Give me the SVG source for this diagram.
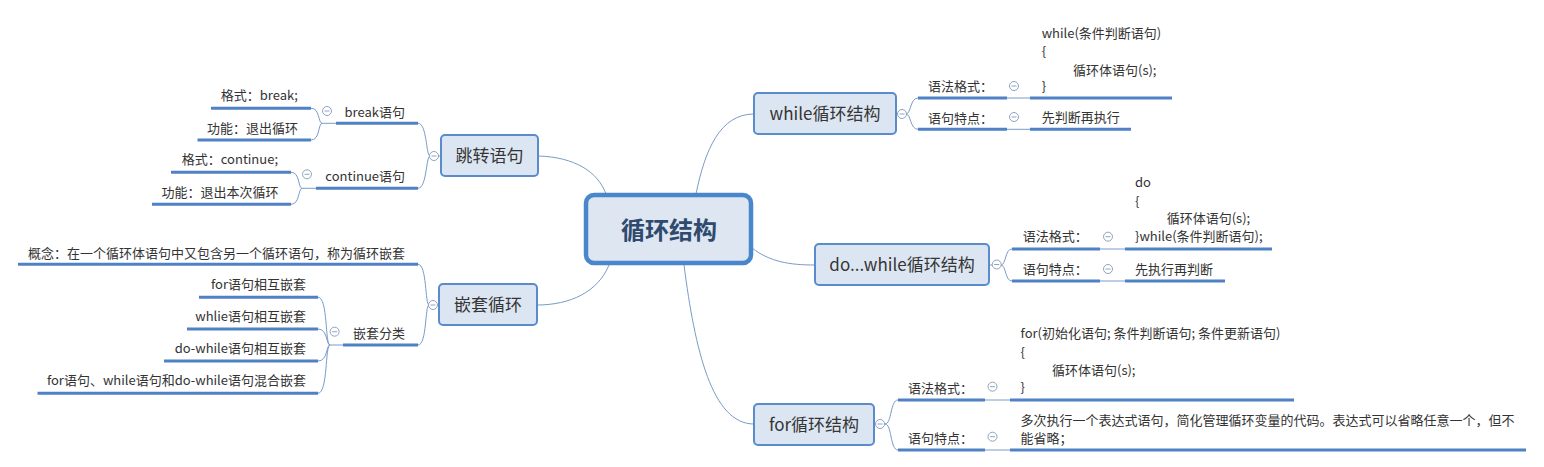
<svg xmlns="http://www.w3.org/2000/svg" xmlns:xlink="http://www.w3.org/1999/xlink" width="1544" height="467" viewBox="0 0 1544 467">
<style>
text{font-family:"Noto Sans CJK SC","Microsoft YaHei",sans-serif;fill:#333333;}
.t{font-size:13px;}
.e{text-anchor:end;}
.m{font-size:17px;text-anchor:middle;fill:#353535;}
.c{font-size:24px;font-weight:bold;text-anchor:middle;fill:#2f4a6e;}
.u{stroke:#4f81c4;stroke-width:3;fill:none;}
.k{stroke:#7a9bc8;stroke-width:1;fill:none;}
.b{fill:#dce6f2;stroke:#5a8bcb;stroke-width:2;}
.cb{fill:#dde6f1;stroke:#4a86cc;stroke-width:4.5;}
.o{fill:#ffffff;stroke:#8fa3bf;stroke-width:1;}
.ol{stroke:#8fa3bf;stroke-width:1;}
</style>
<defs>
<g id="col"><circle class="o" cx="0" cy="0" r="4.5"/><line class="ol" x1="-2.5" y1="0" x2="2.5" y2="0"/></g>
</defs>

<g id="connectors">
<!-- center to main branches -->
<path class="k" d="M606,194 C598,172 575,157 538,156"/>
<path class="k" d="M609,265 C598,292 570,305 537,305"/>
<path class="k" d="M696,194 C705,150 720,114 754,114"/>
<path class="k" d="M752,248 C770,262 790,265 815,265"/>
<path class="k" d="M684,265 C695,350 712,424 754,424"/>
<!-- 跳转语句 bracket -->
<path class="k" d="M441,156 L430,156 C426,156 427,123 418,123.3"/>
<path class="k" d="M430,156 C426,156 427,188 418,188.3"/>
<!-- break bracket -->
<path class="k" d="M336,123.3 L322,123.3 C318,123 320,108 311,108.3"/>
<path class="k" d="M322,123.3 C318,124 320,140 311,140"/>
<!-- continue bracket -->
<path class="k" d="M316,188.3 L302,188.3 C298,188 300,172 291,172.3"/>
<path class="k" d="M302,188.3 C298,189 300,204 291,204.3"/>
<!-- 嵌套循环 bracket -->
<path class="k" d="M439,305 L429,305 C425,305 427,264 418,264.3"/>
<path class="k" d="M429,305 C425,305 427,345 418,345"/>
<!-- 嵌套分类 bracket -->
<path class="k" d="M343,345 L330,345 C325,345 328,297 318,297.3"/>
<path class="k" d="M330,345 C326,345 328,329 318,329"/>
<path class="k" d="M330,345 C326,345 328,361 318,361"/>
<path class="k" d="M330,345 C325,345 328,393 318,393.3"/>
<!-- while bracket -->
<path class="k" d="M896,114 L906,114 C911,114 910,98 918,98"/>
<path class="k" d="M906,114 C911,114 910,129.3 918,129.3"/>
<line class="k" x1="1007" y1="98" x2="1030" y2="98"/>
<line class="k" x1="1007" y1="129.3" x2="1030" y2="129.3"/>
<!-- do..while bracket -->
<path class="k" d="M989,265 L1001,265 C1006,265 1005,249 1012,249"/>
<path class="k" d="M1001,265 C1006,265 1005,281 1012,281"/>
<line class="k" x1="1100" y1="249" x2="1125" y2="249"/>
<line class="k" x1="1100" y1="281" x2="1125" y2="281"/>
<!-- for bracket -->
<path class="k" d="M874,424 L885,424 C892,424 890,400 898,400"/>
<path class="k" d="M885,424 C892,424 890,450 898,450"/>
<line class="k" x1="985" y1="400" x2="1010" y2="400"/>
<line class="k" x1="985" y1="450" x2="1010" y2="450"/>
</g>

<g id="center">
<rect class="cb" x="586" y="195" width="165" height="68" rx="8"/>
<text class="c" x="669" y="238.5">循环结构</text>
</g>

<!-- 跳转语句 -->
<g id="jump">
<rect class="b" x="441" y="135" width="97" height="41" rx="4"/>
<text class="m" x="489.5" y="162">跳转语句</text>
<use xlink:href="#col" x="434" y="156"/>
</g>
<g id="break">
<line class="u" x1="336" y1="123.3" x2="418" y2="123.3"/>
<text class="t e" x="405" y="116.5">break语句</text>
<use xlink:href="#col" x="327" y="111"/>
</g>
<g id="break-format">
<line class="u" x1="211" y1="108.3" x2="311" y2="108.3"/>
<text class="t e" x="298" y="100">格式：break;</text>
</g>
<g id="break-func">
<line class="u" x1="197.5" y1="140" x2="311" y2="140"/>
<text class="t e" x="298" y="133">功能：退出循环</text>
</g>
<g id="continue">
<line class="u" x1="316" y1="188.3" x2="418" y2="188.3"/>
<text class="t e" x="405" y="181">continue语句</text>
<use xlink:href="#col" x="307" y="174.3"/>
</g>
<g id="continue-format">
<line class="u" x1="171" y1="172.3" x2="291" y2="172.3"/>
<text class="t e" x="278" y="164">格式：continue;</text>
</g>
<g id="continue-func">
<line class="u" x1="152" y1="204.3" x2="291" y2="204.3"/>
<text class="t e" x="278.6" y="196.5">功能：退出本次循环</text>
</g>

<!-- 嵌套循环 -->
<g id="nest">
<rect class="b" x="439" y="284" width="98" height="41" rx="4"/>
<text class="m" x="488" y="311">嵌套循环</text>
<use xlink:href="#col" x="433" y="305"/>
</g>
<g id="nest-concept">
<line class="u" x1="18" y1="264.3" x2="418" y2="264.3"/>
<text class="t e" x="405" y="258">概念：在一个循环体语句中又包含另一个循环语句，称为循环嵌套</text>
</g>
<g id="nest-class">
<line class="u" x1="343" y1="345" x2="418" y2="345"/>
<text class="t e" x="405" y="338">嵌套分类</text>
<use xlink:href="#col" x="334.6" y="331.7"/>
</g>
<g id="nest-for">
<line class="u" x1="199" y1="297.3" x2="318" y2="297.3"/>
<text class="t e" x="306" y="289">for语句相互嵌套</text>
</g>
<g id="nest-while">
<line class="u" x1="187" y1="329" x2="318" y2="329"/>
<text class="t e" x="306" y="321">whlie语句相互嵌套</text>
</g>
<g id="nest-dowhile">
<line class="u" x1="164" y1="361" x2="318" y2="361"/>
<text class="t e" x="306" y="353">do-while语句相互嵌套</text>
</g>
<g id="nest-mix">
<line class="u" x1="37.5" y1="393.3" x2="318" y2="393.3"/>
<text class="t e" x="306" y="385">for语句、while语句和do-while语句混合嵌套</text>
</g>

<!-- while -->
<g id="while">
<rect class="b" x="754" y="93" width="142" height="41" rx="4"/>
<text class="m" x="825" y="120">while循环结构</text>
<use xlink:href="#col" x="902" y="114"/>
</g>
<g id="while-syntax">
<line class="u" x1="918" y1="98" x2="1007" y2="98"/>
<text class="t" x="928" y="91">语法格式：</text>
<use xlink:href="#col" x="1014" y="86"/>
</g>
<g id="while-syntax-content">
<line class="u" x1="1030" y1="98" x2="1172" y2="98"/>
<text class="t" x="1041.7" y="37.5">while(条件判断语句)</text>
<text class="t" x="1041.7" y="56">{</text>
<text class="t" x="1073" y="74.5">循环体语句(s);</text>
<text class="t" x="1041.7" y="91">}</text>
</g>
<g id="while-feature">
<line class="u" x1="918" y1="129.3" x2="1007" y2="129.3"/>
<text class="t" x="928" y="122.5">语句特点：</text>
<use xlink:href="#col" x="1014" y="117"/>
</g>
<g id="while-feature-content">
<line class="u" x1="1030" y1="129.3" x2="1131" y2="129.3"/>
<text class="t" x="1041.7" y="122">先判断再执行</text>
</g>

<!-- do...while -->
<g id="dowhile">
<rect class="b" x="815" y="244" width="174" height="41" rx="4"/>
<text class="m" x="902" y="271">do...while循环结构</text>
<use xlink:href="#col" x="996.7" y="264.5"/>
</g>
<g id="dowhile-syntax">
<line class="u" x1="1012" y1="249" x2="1100" y2="249"/>
<text class="t" x="1022.7" y="240.5">语法格式：</text>
<use xlink:href="#col" x="1108" y="236.7"/>
</g>
<g id="dowhile-syntax-content">
<line class="u" x1="1125" y1="249" x2="1272" y2="249"/>
<text class="t" x="1135" y="186.5">do</text>
<text class="t" x="1135" y="205.5">{</text>
<text class="t" x="1166.7" y="223">循环体语句(s);</text>
<text class="t" x="1135" y="241">}while(条件判断语句);</text>
</g>
<g id="dowhile-feature">
<line class="u" x1="1012" y1="281" x2="1100" y2="281"/>
<text class="t" x="1022.7" y="274">语句特点：</text>
<use xlink:href="#col" x="1108" y="269"/>
</g>
<g id="dowhile-feature-content">
<line class="u" x1="1125" y1="281" x2="1225" y2="281"/>
<text class="t" x="1135" y="274">先执行再判断</text>
</g>

<!-- for -->
<g id="for">
<rect class="b" x="754" y="404" width="120" height="41" rx="4"/>
<text class="m" x="814" y="431">for循环结构</text>
<use xlink:href="#col" x="880" y="424"/>
</g>
<g id="for-syntax">
<line class="u" x1="898" y1="400" x2="985" y2="400"/>
<text class="t" x="908" y="393">语法格式：</text>
<use xlink:href="#col" x="992.5" y="386.7"/>
</g>
<g id="for-syntax-content">
<line class="u" x1="1010" y1="400" x2="1294" y2="400"/>
<text class="t" x="1020.6" y="338">for(初始化语句; 条件判断语句; 条件更新语句)</text>
<text class="t" x="1020.6" y="356.5">{</text>
<text class="t" x="1052" y="375">循环体语句(s);</text>
<text class="t" x="1020.6" y="392">}</text>
</g>
<g id="for-feature">
<line class="u" x1="898" y1="450" x2="985" y2="450"/>
<text class="t" x="908" y="443">语句特点：</text>
<use xlink:href="#col" x="992.5" y="436.7"/>
</g>
<g id="for-feature-content">
<line class="u" x1="1010" y1="450" x2="1526" y2="450"/>
<text class="t" x="1020.6" y="425">多次执行一个表达式语句，简化管理循环变量的代码。表达式可以省略任意一个，但不</text>
<text class="t" x="1020.6" y="442.5">能省略；</text>
</g>
</svg>
